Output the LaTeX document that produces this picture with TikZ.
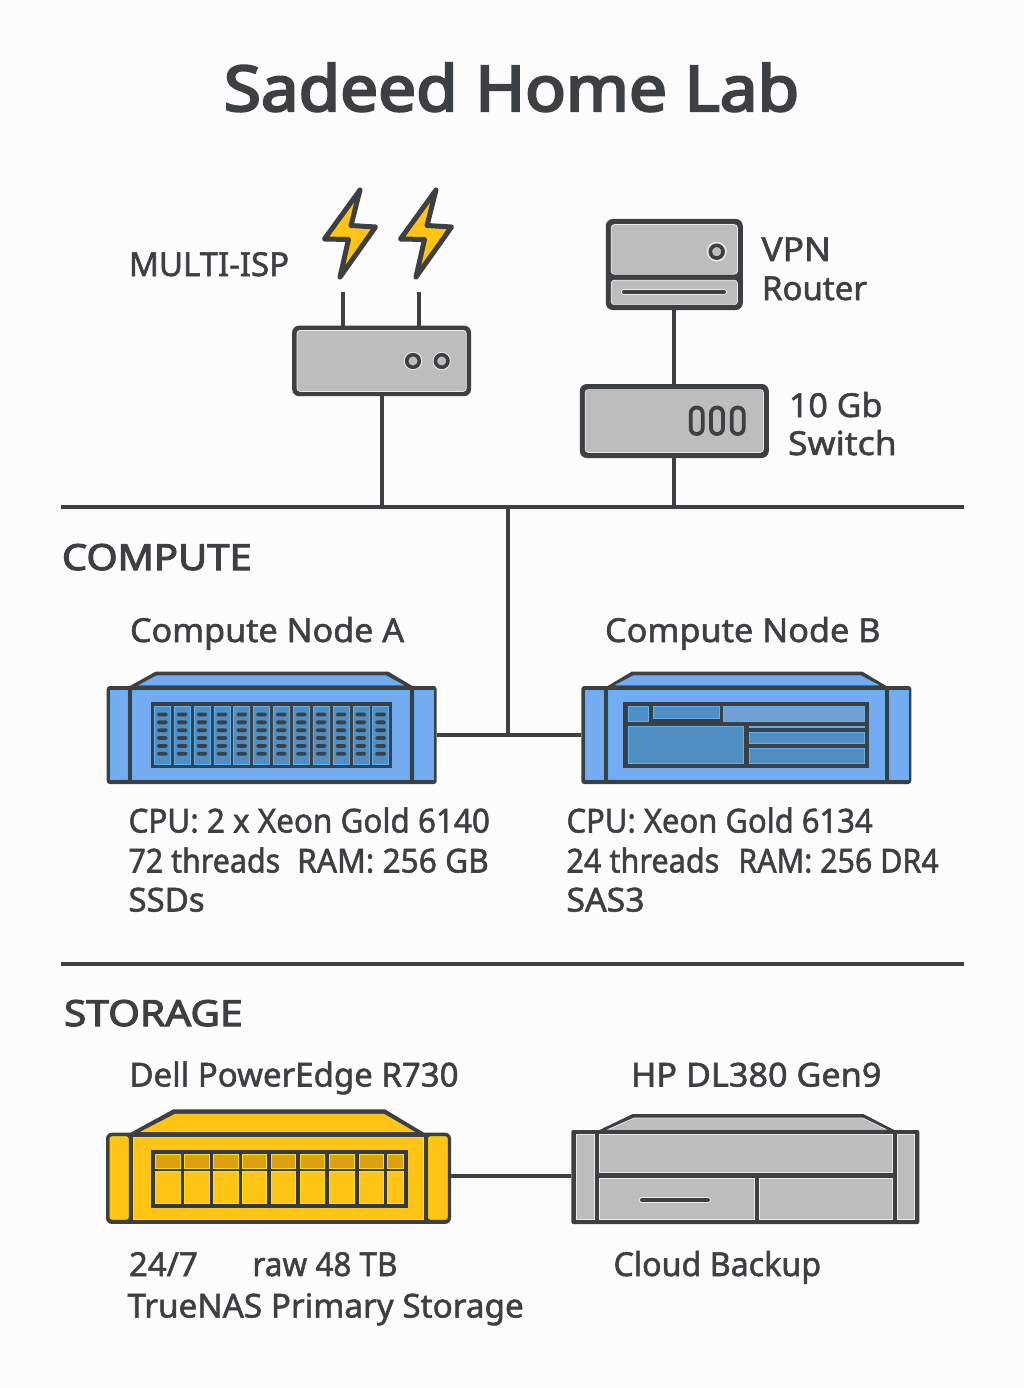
\documentclass[tikz,border=0pt]{standalone}
\usepackage{fontspec}
\setmainfont{Noto Sans}
\newfontfamily\medfont{Noto Sans}[FakeBold=1.6]
\newfontfamily\sectfont{Noto Sans}[FakeBold=2.8]
\newfontfamily\titlefont{Noto Sans}[FakeBold=3.6]
\definecolor{ink}{HTML}{3C4043}
\definecolor{navy}{HTML}{2F3650}
\definecolor{bg}{HTML}{FCFCFC}
\definecolor{blue1}{HTML}{74ACF2}
\definecolor{blue2}{HTML}{4F8FC4}
\definecolor{blue3}{HTML}{6F9FD3}
\definecolor{bluehl}{HTML}{58B0F5}
\definecolor{gray1}{HTML}{BDBDBD}
\definecolor{grayhl}{HTML}{EAEAEA}
\definecolor{yel}{HTML}{FFC414}
\definecolor{yeld}{HTML}{DDA011}
\definecolor{yelhl}{HTML}{FFE000}
\tikzset{
  shell/.style={fill=ink,draw=none,inner sep=0pt,outer sep=0pt,rounded corners=#1},
  shell/.default=3pt,
  bluecell/.style={fill=blue1,draw=bluehl,line width=.6pt},
  diskcell/.style={fill=blue2,draw=bluehl,line width=.6pt},
  palecell/.style={fill=blue3,draw=bluehl,line width=.6pt},
  graycell/.style={fill=gray1,draw=grayhl,line width=.7pt},
  yelcell/.style={fill=yel,draw=yelhl,line width=.6pt},
  yeldark/.style={fill=yeld,draw=yelhl,line width=.5pt},
  wire/.style={draw=ink,line width=3.8pt},
  lab/.style={anchor=base west,inner sep=0pt,outer sep=0pt,text=ink,font=\medfont\fontsize{33}{33}\selectfont},
  sect/.style={anchor=base west,inner sep=0pt,outer sep=0pt,text=ink,font=\sectfont\fontsize{36}{36}\selectfont},
  bolt/.style={fill=yel,draw=ink,line width=5pt,line join=round},
  slotline/.style={draw=ink,line width=4.4pt,line cap=round},
}
\newcommand{\cell}[5]{\draw[#5] ({#1+.4},{#2+.4}) rectangle ({#3-.4},{#4-.4});}
\newcommand{\hs}[2]{\scalebox{#1}[1]{#2}}
\begin{document}
\begin{tikzpicture}[x=1pt,y=-1pt]
\useasboundingbox (0,0) rectangle (1024,1388);
\fill[bg] (0,0) rectangle (1024,1388);

% title
\node[anchor=base,inner sep=0pt,text=ink,font=\titlefont\fontsize{63}{63}\selectfont] (title) at (511.5,111) {\hs{1.07}{Sadeed Home Lab}};

% free points of connectors
\coordinate (busL) at (61,507);
\coordinate (busR) at (964,507);
\coordinate (divL) at (61,964);
\coordinate (divR) at (964,964);
\coordinate (stubA) at (343,292);
\coordinate (stubB) at (419,292);
\coordinate (trunk) at (508,507);
\coordinate (storY) at (500,1176);

% router
\node[shell=7pt,minimum width=179pt,minimum height=70.6pt] (router) at (381.6,360.9) {};
\draw[graycell,rounded corners=3pt] (297,330.4) rectangle (466.3,391.4);
\foreach \x in {413,441.7}{\draw[fill=grayhl,draw=none] (\x,361) circle (9.2pt);\draw[fill=gray1,draw=ink,line width=3.6pt] (\x,361) circle (6.3pt);}
% bolts
\foreach \d in {0,76}{
\draw[bolt,xshift=\d pt] (360,190) -- (324.5,239) -- (348.5,239.5) -- (340,277) -- (375.5,227) -- (351,225.5) -- cycle;}
% VPN
\node[shell=7pt,minimum width=137pt,minimum height=91pt] (vpn) at (674.3,264.5) {};
\draw[graycell,rounded corners=3pt] (611.2,224.6) rectangle (737.4,274.2);
\draw[graycell,rounded corners=3pt] (611.2,280.2) rectangle (737.4,304.6);
\draw[fill=grayhl,draw=none] (716.7,251.7) circle (10pt);
\draw[fill=gray1,draw=ink,line width=3.6pt] (716.7,251.7) circle (6.4pt);
\draw[slotline,draw=grayhl,line width=6pt] (624,291.8) -- (724,291.8);
\draw[slotline,line width=4pt] (624,291.8) -- (724,291.8);
% switch
\node[shell=7pt,minimum width=189pt,minimum height=74pt] (switch) at (674.3,421) {};
\draw[graycell,rounded corners=3pt] (585.2,389.6) rectangle (763.4,452.4);
\foreach \x in {696.7,717,737.7}{\draw[fill=gray1,draw=ink,line width=3.8pt,rounded corners=5.8pt] (\x-6,407.5) rectangle (\x+6,434);}

% connectors upper
\draw[wire] (stubA) -- (stubA |- router.north);
\draw[wire] (stubB) -- (stubB |- router.north);
\draw[wire] (router.south) -- (router.south |- busL);
\draw[wire] (vpn.south) -- (switch.north);
\draw[wire] (switch.south) -- (switch.south |- busL);
\draw[wire] (busL) -- (busR);
\draw[wire] (divL) -- (divR);

% Compute A
\draw[fill=ink,draw=none] (128,687) -- (156,671.5) -- (388,671.5) -- (414,687) -- cycle;
\node[shell,minimum width=330pt,minimum height=98pt] (nodeA) at (271.7,735) {};
\draw[bluecell] (139.3,685) -- (156.7,675.7) -- (386,675.7) -- (403.3,685) -- cycle;
\cell{110}{690}{127.7}{779.8}{bluecell}
\cell{132.3}{690}{410}{779.8}{bluecell}
\cell{414.3}{690}{433.3}{779.8}{bluecell}
\fill[ink] (150.8,701.7) rectangle (392,767.7);
\foreach \i in {0,...,11}{
  \pgfmathsetmacro\xa{154.3+19.85*\i}
  \draw[diskcell] (\xa,706) rectangle ({\xa+16},764);
  \foreach \j in {0,...,5}{
    \pgfmathsetmacro\yy{714.5+7.85*\j}
    \fill[ink,rounded corners=1.4pt] ({\xa+2.8},\yy-1.9) rectangle ({\xa+13.2},\yy+1.9);
  }
}
% Compute B
\draw[fill=ink,draw=none] (606,687) -- (632,671.5) -- (862,671.5) -- (888,687) -- cycle;
\node[shell,minimum width=330pt,minimum height=98pt] (nodeB) at (746.3,735) {};
\draw[bluecell] (615.7,685) -- (633.3,675.7) -- (860.7,675.7) -- (878.3,685) -- cycle;
\cell{585.3}{690}{603.3}{779.8}{bluecell}
\cell{608.3}{690}{884.3}{779.8}{bluecell}
\cell{889}{690}{908.3}{779.8}{bluecell}
\fill[ink] (623.3,701.7) rectangle (869,767.7);
\cell{628}{706}{648.7}{721.3}{diskcell}
\cell{652.7}{706}{719.3}{718.7}{diskcell}
\cell{723.3}{706}{865}{721.3}{palecell}
\cell{628}{726}{744}{763.3}{diskcell}
\cell{749}{725.6}{865}{728.1}{diskcell}
\cell{749}{732}{865}{743.3}{diskcell}
\cell{749}{748}{865}{763.3}{diskcell}
% compute connectors
\draw[wire] (nodeA.east) -- (nodeB.west);
\draw[wire] (trunk) -- (trunk |- nodeA.east);

% Storage A
\draw[fill=ink,draw=none] (128.3,1134) -- (173.3,1109.3) -- (385,1109.3) -- (426,1134) -- cycle;
\node[shell=6pt,minimum width=345pt,minimum height=91.3pt] (storA) at (278.5,1178.3) {};
\draw[yelcell,draw=navy] (138.3,1132.3) -- (175,1113.3) -- (384,1113.3) -- (416.7,1132.3) -- cycle;
\draw[yelcell,rounded corners=2pt] (110,1136.7) rectangle (128.3,1219.3);
\cell{132.7}{1136.7}{424}{1219.3}{yelcell}
\draw[yelcell,rounded corners=2pt] (428.3,1136.7) rectangle (447.3,1219.3);
\fill[navy!75!ink] (151,1150) rectangle (407.7,1207.7);
\foreach \a/\b in {195/270,283/357,371/444,457/530,543/617,631/704,719/792,807/880,893/940}{
  \pgfmathsetmacro\xa{90+\a/3}
  \pgfmathsetmacro\xb{90+\b/3}
  \draw[yeldark] (\xa,1154.3) rectangle (\xb,1167.8);
  \draw[yelcell] (\xa,1171) rectangle (\xb,1203.3);
}
% Storage B
\draw[fill=ink,draw=none] (597.3,1131) -- (632.7,1114) -- (863.3,1114) -- (896,1131) -- cycle;
\node[shell=2pt,minimum width=348pt,minimum height=94pt] (storB) at (745.3,1177) {};
\draw[graycell] (608.3,1129.3) -- (634,1118) -- (862.7,1118) -- (886,1129.3) -- cycle;
\cell{575.7}{1134.3}{594.3}{1219.3}{graycell}
\cell{599}{1134.3}{892.7}{1172.7}{graycell}
\cell{599}{1178.3}{754.3}{1219.3}{graycell}
\cell{759}{1178.3}{892.7}{1219.3}{graycell}
\cell{897}{1134.3}{915}{1219.3}{graycell}
\draw[slotline,draw=grayhl,line width=6pt] (642,1200) -- (708,1200);
\draw[slotline,line width=4pt] (642,1200) -- (708,1200);
\draw[wire] (storA.east |- storY) -- (storB.west |- storY);

% labels
\node[lab] (lisp) at (129,276) {MULTI-ISP};
\node[lab] (lvpn1) at (761.5,261) {\hs{1.07}{VPN}};
\node[lab] (lvpn2) at (762,300) {Router};
\node[lab] (lsw1) at (789,417) {\hs{1.03}{10 Gb}};
\node[lab] (lsw2) at (788,455) {\hs{1.08}{Switch}};
\node[sect] (lcomp) at (62,570) {\hs{1.11}{COMPUTE}};
\node[lab] (la) at (130,642) {\hs{1.034}{Compute Node A}};
\node[lab] (lb) at (605,642) {\hs{1.038}{Compute Node B}};
\node[lab] (a1) at (128.5,832.5) {\hs{.952}{CPU: 2 x Xeon Gold 6140}};
\node[lab] (a2) at (128.5,872.5) {\hs{.92}{72 threads}\hspace{17pt}\hs{.96}{RAM: 256 GB}};
\node[lab] (a3) at (128.5,911.5) {SSDs};
\node[lab] (b1) at (566.5,832.5) {\hs{.939}{CPU: Xeon Gold 6134}};
\node[lab] (b2) at (566.5,872.5) {\hs{.927}{24 threads}\hspace{19pt}\hs{.921}{RAM: 256 DR4}};
\node[lab] (b3) at (566.5,911.5) {\hs{1.025}{SAS3}};
\node[sect] (lstor) at (64,1026) {\hs{1.13}{STORAGE}};
\node[lab] (lc) at (129.5,1086.5) {Dell PowerEdge R730};
\node[lab] (ld) at (631,1086.5) {\hs{1.037}{HP DL380 Gen9}};
\node[lab] (c1) at (129,1276) {24/7};
\node[lab] (c2) at (252.5,1276) {\hs{.953}{raw 48 TB}};
\node[lab] (c3) at (127.5,1317.5) {\hs{1.008}{TrueNAS Primary Storage}};
\node[lab] (d1) at (613.5,1276) {\hs{.976}{Cloud Backup}};
\end{tikzpicture}
\end{document}
